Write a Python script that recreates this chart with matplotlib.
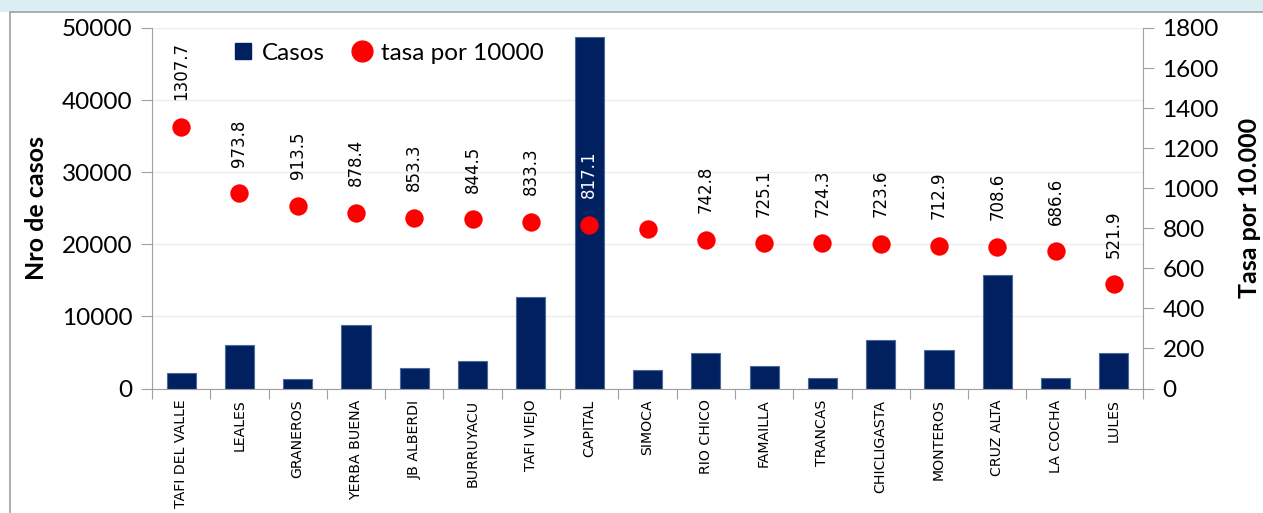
import matplotlib
matplotlib.use("Agg")
import matplotlib.pyplot as plt
from matplotlib.patches import Rectangle
from matplotlib.lines import Line2D
import numpy as np

departamentos = ["TAFI DEL VALLE", "LEALES", "GRANEROS", "YERBA BUENA", "JB ALBERDI",
                 "BURRUYACU", "TAFI VIEJO", "CAPITAL", "SIMOCA", "RIO CHICO", "FAMAILLA",
                 "TRANCAS", "CHICLIGASTA", "MONTEROS", "CRUZ ALTA", "LA COCHA", "LULES"]
casos = [2200, 6100, 1300, 8800, 2900, 3800, 12700, 48750, 2550, 4880, 3120,
         1500, 6730, 5340, 15700, 1500, 4880]
tasa = [1307.7, 973.8, 913.5, 878.4, 853.3, 844.5, 833.3, 817.1, 798.0, 742.8, 725.1,
        724.3, 723.6, 712.9, 708.6, 686.6, 521.9]
etiquetas = ["1307.7", "973.8", "913.5", "878.4", "853.3", "844.5", "833.3", "817.1", "",
             "742.8", "725.1", "724.3", "723.6", "712.9", "708.6", "686.6", "521.9"]

W, H = 1263, 513
fig = plt.figure(figsize=(W / 100, H / 100), dpi=100)

# top band and chart frame
fig.patches.append(Rectangle((0, 1 - 12 / H), 1, 12 / H, transform=fig.transFigure,
                             facecolor="#DBEEF4", edgecolor="none", zorder=-5))
fig.patches.append(Rectangle((10 / W, -0.01), 1.2, 1 - 12 / H + 0.01, transform=fig.transFigure,
                             facecolor="white", edgecolor="#A0A0A0", linewidth=1.2, zorder=-4))

ax = fig.add_axes([152 / W, 1 - 388.5 / H, (1143 - 152) / W, (388.5 - 28) / H])
ax2 = ax.twinx()
ax.patch.set_visible(False)
ax2.patch.set_visible(False)

x = np.arange(len(departamentos))
navy = "#002060"
ax.bar(x, casos, width=0.5, color=navy, edgecolor="#4A6A9A", linewidth=0.8, zorder=2, label="Casos")
ax.set_ylim(0, 50000)
ax.set_xlim(-0.5, len(departamentos) - 0.5)
ax.set_yticks(np.arange(0, 50001, 10000))
ax.yaxis.grid(True, color="#EDEDED", linewidth=1)
ax.set_axisbelow(True)

ax2.scatter(x, tasa, s=175, color="#FF0000", zorder=3, label="tasa por 10000", linewidths=0)
ax2.set_ylim(0, 1800)
ax2.set_yticks(np.arange(0, 1801, 200))

for i, (xi, v, t) in enumerate(zip(x, tasa, etiquetas)):
    if not t:
        continue
    col = "white" if departamentos[i] == "CAPITAL" else "black"
    ax2.annotate(t, (xi, v), xytext=(0, 19), textcoords="offset points",
                 rotation=90, ha="center", va="bottom", fontsize=12, color=col,
                 family="DejaVu Sans")

# categorical ticks at boundaries
ax.set_xticks(np.arange(-0.5, len(departamentos), 1))
ax.set_xticklabels([])
ax.set_xticks(x, minor=True)
ax.set_xticklabels(departamentos, minor=True, rotation=90, fontsize=10.2, family="DejaVu Sans",
                   va="top", ha="center")
ax.tick_params(axis="x", which="major", length=7, color="#A0A0A0", direction="out")
ax.tick_params(axis="x", which="minor", length=0, pad=8)

for a in (ax, ax2):
    for s in a.spines.values():
        s.set_visible(False)
ax.spines["left"].set_visible(True)
ax.spines["left"].set_color("#A0A0A0")
ax.spines["bottom"].set_visible(True)
ax.spines["bottom"].set_color("#A0A0A0")
ax2.spines["right"].set_visible(True)
ax2.spines["right"].set_color("#A0A0A0")

ax.tick_params(axis="y", length=8, color="#A0A0A0", labelsize=17.5, pad=6)
ax2.tick_params(axis="y", length=8, color="#A0A0A0", labelsize=17.5, pad=6)
for lab in ax.get_yticklabels() + ax2.get_yticklabels():
    lab.set_family("Lato")

ax.set_ylabel("Nro de casos", fontsize=18, fontweight="bold", family="Lato", labelpad=10)
ax2.set_ylabel("Tasa por 10.000", fontsize=18, fontweight="bold", family="Lato", labelpad=14)

handles = [Line2D([], [], marker="s", linestyle="none", markersize=12, color=navy),
           Line2D([], [], marker="o", linestyle="none", markersize=15, color="#FF0000")]
leg = ax2.legend(handles, ["Casos", "tasa por 10000"], loc="upper left", ncol=2,
                 bbox_to_anchor=(0.05, 1.02), frameon=False, handletextpad=0.0,
                 handlelength=1.6, columnspacing=0.7, prop={"family": "Lato", "size": 17.5})

fig.savefig("out.png", dpi=100)
